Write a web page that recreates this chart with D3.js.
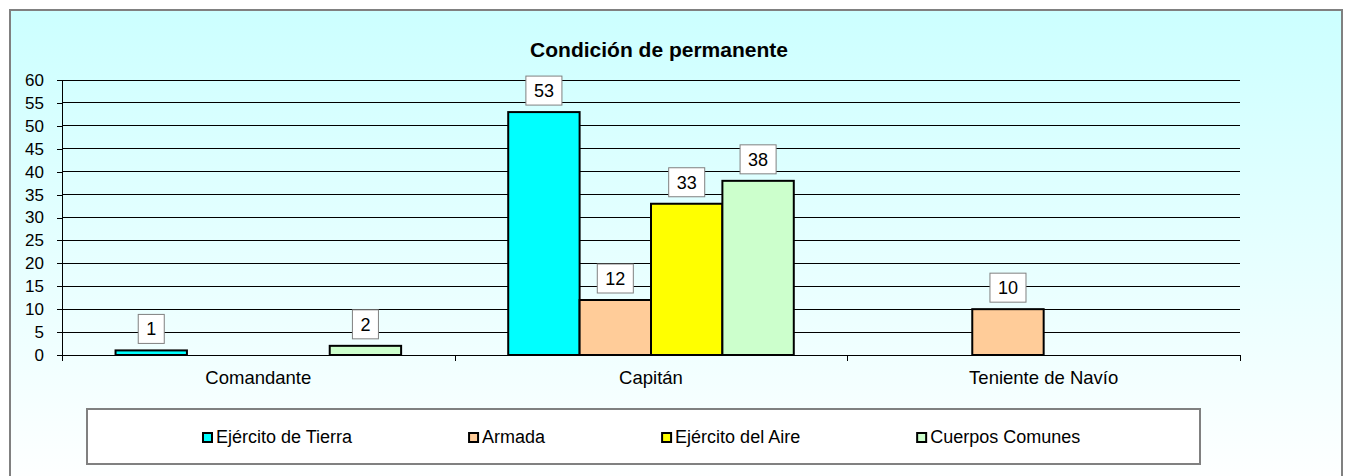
<!DOCTYPE html>
<html>
<head>
<meta charset="utf-8">
<script src="https://cdn.jsdelivr.net/npm/d3@7"></script>
<style>
  body { margin: 0; background: #fff; }
  text { font-family: Arial, "Liberation Sans", sans-serif; fill: #000; }
</style>
</head>
<body>
<script>
const categories = ['Comandante', 'Capitán', 'Teniente de Navío'];
const seriesNames = ['Ejército de Tierra', 'Armada', 'Ejército del Aire', 'Cuerpos Comunes'];
const tierra = [1, 53, 0];
const armada = [0, 12, 10];
const aire = [0, 33, 0];
const comunes = [2, 38, 0];
const yTicks = [0, 5, 10, 15, 20, 25, 30, 35, 40, 45, 50, 55, 60];
const colors = ['#00FFFF', '#FFCC99', '#FFFF00', '#CCFFCC'];

const render = () => {
  const width = 1346, height = 476;
  const plot = {left: 62, right: 1240, top: 80, bottom: 355};
  const values = [tierra, armada, aire, comunes];

  const svg = d3.select('body').append('svg')
      .attr('width', width)
      .attr('height', height);

  const grad = svg.append('defs').append('linearGradient')
      .attr('id', 'bg')
      .attr('x1', 0).attr('y1', 0).attr('x2', 0).attr('y2', 1);
  grad.append('stop').attr('offset', '0%').attr('stop-color', '#CCFFFF');
  grad.append('stop').attr('offset', '100%').attr('stop-color', '#FFFFFF');

  // chart area
  svg.append('rect')
      .attr('x', 10).attr('y', 10)
      .attr('width', 1332).attr('height', 480)
      .attr('fill', 'url(#bg)')
      .attr('stroke', '#808080')
      .attr('stroke-width', 2);

  svg.append('text')
      .attr('x', 659).attr('y', 57)
      .attr('text-anchor', 'middle')
      .style('font-size', '21px')
      .style('font-weight', 'bold')
      .text('Condición de permanente');

  const y = d3.scaleLinear()
      .domain([0, 60])
      .range([plot.bottom, plot.top]);

  const x0 = d3.scaleBand()
      .domain(categories)
      .range([plot.left, plot.right]);

  const x1 = d3.scaleBand()
      .domain(seriesNames)
      .range([0, x0.bandwidth()])
      .paddingInner(0)
      .paddingOuter(0.75);

  // gridlines
  svg.append('g')
    .selectAll('line')
    .data(yTicks.filter(d => d > 0))
    .enter().append('line')
      .attr('x1', plot.left).attr('x2', plot.right)
      .attr('y1', d => y(d)).attr('y2', d => y(d))
      .attr('stroke', '#000')
      .attr('stroke-width', 1)
      .attr('shape-rendering', 'crispEdges');

  const yAxis = d3.axisLeft(y)
      .tickValues(yTicks)
      .tickSize(5)
      .tickPadding(13);

  svg.append('g')
      .attr('transform', 'translate(' + plot.left + ',0)')
      .call(yAxis)
      .call(g => g.select('.domain').attr('d', 'M0,' + plot.top + 'V' + plot.bottom))
      .call(g => g.selectAll('text').style('font-size', '17px').attr('font-family', null))
      .call(g => g.selectAll('line, path').attr('stroke', '#000').attr('shape-rendering', 'crispEdges'));

  // x axis
  const xg = svg.append('g');
  xg.append('line')
      .attr('x1', plot.left).attr('x2', plot.right)
      .attr('y1', plot.bottom).attr('y2', plot.bottom)
      .attr('stroke', '#000')
      .attr('shape-rendering', 'crispEdges');
  xg.selectAll('.tick')
    .data(categories.map(c => x0(c)).concat([plot.right]))
    .enter().append('line')
      .attr('x1', d => Math.round(d)).attr('x2', d => Math.round(d))
      .attr('y1', plot.bottom).attr('y2', plot.bottom + 6)
      .attr('stroke', '#000')
      .attr('shape-rendering', 'crispEdges');
  xg.selectAll('.cat')
    .data(categories)
    .enter().append('text')
      .attr('x', d => x0(d) + x0.bandwidth() / 2)
      .attr('y', 384)
      .attr('text-anchor', 'middle')
      .style('font-size', '18.5px')
      .text(d => d);

  const bars = [];
  categories.forEach((c, i) => {
    seriesNames.forEach((s, j) => {
      if (values[j][i] > 0) bars.push({cat: c, series: s, j: j, value: values[j][i]});
    });
  });

  svg.append('g')
    .selectAll('rect')
    .data(bars)
    .enter().append('rect')
      .attr('x', d => x0(d.cat) + x1(d.series))
      .attr('y', d => y(d.value))
      .attr('width', x1.bandwidth())
      .attr('height', d => y(0) - y(d.value))
      .attr('fill', d => colors[d.j])
      .attr('stroke', '#000')
      .attr('stroke-width', 2);

  // value labels
  const lab = svg.append('g')
    .selectAll('g')
    .data(bars)
    .enter().append('g')
      .attr('transform', d => 'translate(' + (x0(d.cat) + x1(d.series) + x1.bandwidth() / 2) + ',' + (y(d.value) - 7) + ')');
  lab.append('text')
      .attr('y', -8)
      .attr('text-anchor', 'middle')
      .style('font-size', '18px')
      .text(d => d.value);
  lab.each(function() {
    const g = d3.select(this);
    const w = g.select('text').node().getComputedTextLength() + 16;
    g.insert('rect', 'text')
        .attr('x', -w / 2)
        .attr('y', -29)
        .attr('width', w)
        .attr('height', 29)
        .attr('fill', '#fff')
        .attr('stroke', '#808080')
        .attr('stroke-width', 1);
  });

  // legend
  const legend = svg.append('g');
  legend.append('rect')
      .attr('x', 87).attr('y', 409)
      .attr('width', 1113).attr('height', 55)
      .attr('fill', '#fff')
      .attr('stroke', '#808080')
      .attr('stroke-width', 2);

  let lx = 202;
  seriesNames.forEach((s, j) => {
    const item = legend.append('g').attr('transform', 'translate(' + lx + ',443)');
    item.append('rect')
        .attr('x', 1).attr('y', -10)
        .attr('width', 9).attr('height', 9)
        .attr('fill', colors[j])
        .attr('stroke', '#000')
        .attr('stroke-width', 2);
    const t = item.append('text')
        .attr('x', 14).attr('y', 0)
        .style('font-size', '18px')
        .text(s);
    lx += 14 + t.node().getComputedTextLength() + 116;
  });
};

render();
</script>
</body>
</html>
